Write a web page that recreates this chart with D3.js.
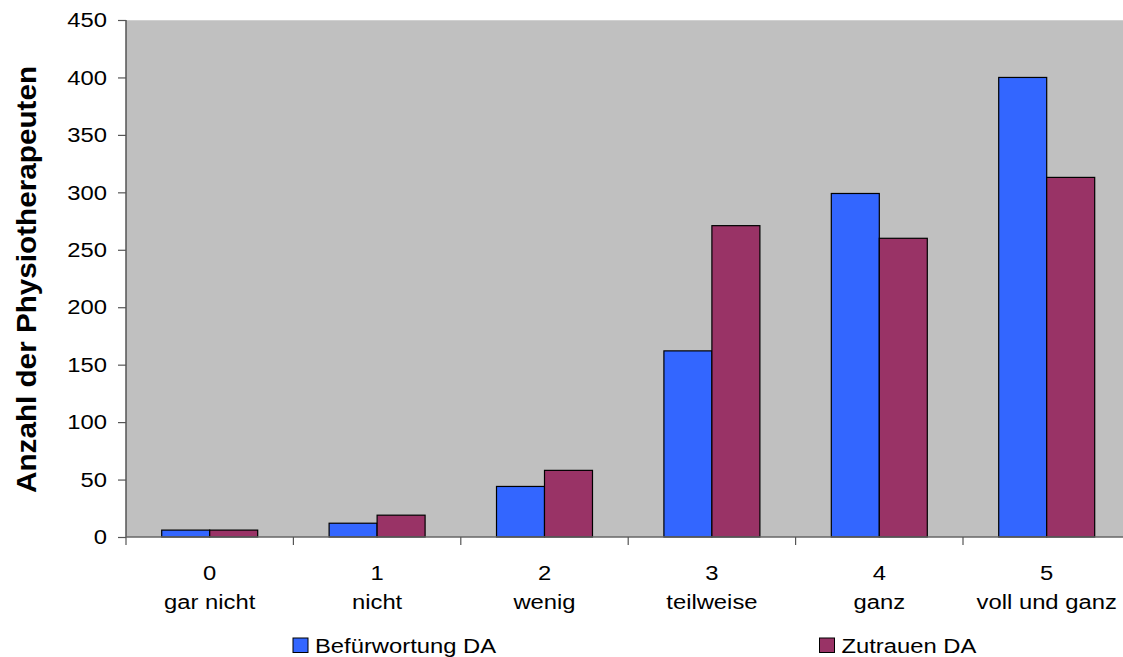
<!DOCTYPE html>
<html>
<head>
<meta charset="utf-8">
<script src="https://cdn.jsdelivr.net/npm/d3@7"></script>
<style>
  html, body { margin: 0; padding: 0; background: #fff; }
  svg { display: block; font-family: "Liberation Sans", Arial, sans-serif; }
</style>
</head>
<body>
<svg id="chart" width="1123" height="657"></svg>
<script>
// Rating scale categories (number + verbal anchor)
const categoryCodes = ["0", "1", "2", "3", "4", "5"];
const categoryLabels = ["gar nicht", "nicht", "wenig", "teilweise", "ganz", "voll und ganz"];

// Series
const seriesNames = ["Befürwortung DA", "Zutrauen DA"];
const befuerwortung = [6, 12, 44, 162, 299, 400];
const zutrauen = [6, 19, 58, 271, 260, 313];
const seriesColors = ["#3366FF", "#993366"];

// Y axis ticks
const yTicks = [0, 50, 100, 150, 200, 250, 300, 350, 400, 450];

// Text is drawn slightly widened, the way the chart export renders it
const STRETCH = 1.19;
const FONT = 20;

const svg = d3.select("#chart");
const plot = { left: 126, top: 20, bottom: 537, right: 1130.4 };

const x = d3.scaleBand()
  .domain(categoryCodes)
  .range([plot.left, plot.right])
  .paddingInner(0).paddingOuter(0);

const bw = x.bandwidth();
const xSub = d3.scaleBand()
  .domain(seriesNames)
  .range([bw * 0.2133, bw * 0.7867]);

const y = d3.scaleLinear()
  .domain([0, 450])
  .range([plot.bottom, plot.top]);

// Plot background
svg.append("rect")
  .attr("x", plot.left).attr("y", plot.top)
  .attr("width", plot.right - plot.left).attr("height", plot.bottom - plot.top)
  .attr("fill", "#C0C0C0");
svg.append("line")
  .attr("x1", plot.left).attr("x2", plot.right)
  .attr("y1", plot.top + 0.5).attr("y2", plot.top + 0.5)
  .attr("stroke", "#d0d0d0").attr("stroke-width", 1);

// Bars
const seriesValues = [befuerwortung, zutrauen];
const rows = [];
categoryCodes.forEach((c, i) => {
  seriesNames.forEach((s, j) => rows.push({ cat: c, series: s, value: seriesValues[j][i], color: seriesColors[j] }));
});

svg.append("g").selectAll("rect")
  .data(rows)
  .join("rect")
  .attr("x", d => x(d.cat) + xSub(d.series))
  .attr("y", d => y(d.value))
  .attr("width", xSub.bandwidth())
  .attr("height", d => y(0) - y(d.value))
  .attr("fill", d => d.color)
  .attr("stroke", "#000")
  .attr("stroke-width", 1.2);

// Y axis (line + ticks from d3.axisLeft, labels placed separately so they can be widened)
const yAxis = d3.axisLeft(y).tickValues(yTicks).tickSize(8).tickFormat("");
const gy = svg.append("g")
  .attr("transform", `translate(${plot.left},0)`)
  .call(yAxis);
gy.select(".domain").attr("stroke", "#555").attr("stroke-width", 1.5).attr("d", `M0,${plot.top}V${plot.bottom}`);
gy.selectAll(".tick line").attr("stroke", "#555").attr("stroke-width", 1.2);

svg.append("g").selectAll("text")
  .data(yTicks)
  .join("text")
  .attr("transform", d => `translate(107,${y(d)}) scale(${STRETCH},1)`)
  .attr("dy", "0.36em")
  .attr("text-anchor", "end")
  .attr("font-size", FONT).attr("fill", "#000")
  .text(d => d);

// X axis baseline and separators between categories
svg.append("line")
  .attr("x1", plot.left).attr("x2", plot.right)
  .attr("y1", plot.bottom).attr("y2", plot.bottom)
  .attr("stroke", "#666").attr("stroke-width", 1.5);
svg.append("g").selectAll("line")
  .data(categoryCodes)
  .join("line")
  .attr("x1", d => x(d)).attr("x2", d => x(d))
  .attr("y1", plot.bottom).attr("y2", plot.bottom + 8)
  .attr("stroke", "#555").attr("stroke-width", 1.2);

// Category labels (two lines)
const xl = svg.append("g").selectAll("g")
  .data(categoryCodes)
  .join("g")
  .attr("transform", d => `translate(${x(d) + bw / 2},0)`);
xl.append("text")
  .attr("transform", `translate(0,580) scale(${STRETCH},1)`)
  .attr("text-anchor", "middle")
  .attr("font-size", FONT).attr("fill", "#000")
  .text(d => d);
xl.append("text")
  .attr("transform", `translate(0,609) scale(${STRETCH},1)`)
  .attr("text-anchor", "middle")
  .attr("font-size", FONT).attr("fill", "#000")
  .text((d, i) => categoryLabels[i]);

// Y axis title
svg.append("text")
  .attr("transform", `translate(36,279.5) rotate(-90) scale(1.06,1)`)
  .attr("text-anchor", "middle")
  .attr("font-size", 28).attr("font-weight", "bold").attr("fill", "#000")
  .text("Anzahl der Physiotherapeuten");

// Legend
const legendX = [293, 819.5];
const lg = svg.append("g").selectAll("g")
  .data(seriesNames)
  .join("g")
  .attr("transform", (d, i) => `translate(${legendX[i]},638)`);
lg.append("rect")
  .attr("width", 15).attr("height", 14.5)
  .attr("fill", (d, i) => seriesColors[i])
  .attr("stroke", "#000").attr("stroke-width", 1);
lg.append("text")
  .attr("transform", `translate(22,14.5) scale(${STRETCH},1)`)
  .attr("font-size", FONT).attr("fill", "#000")
  .text(d => d);
</script>
</body>
</html>
